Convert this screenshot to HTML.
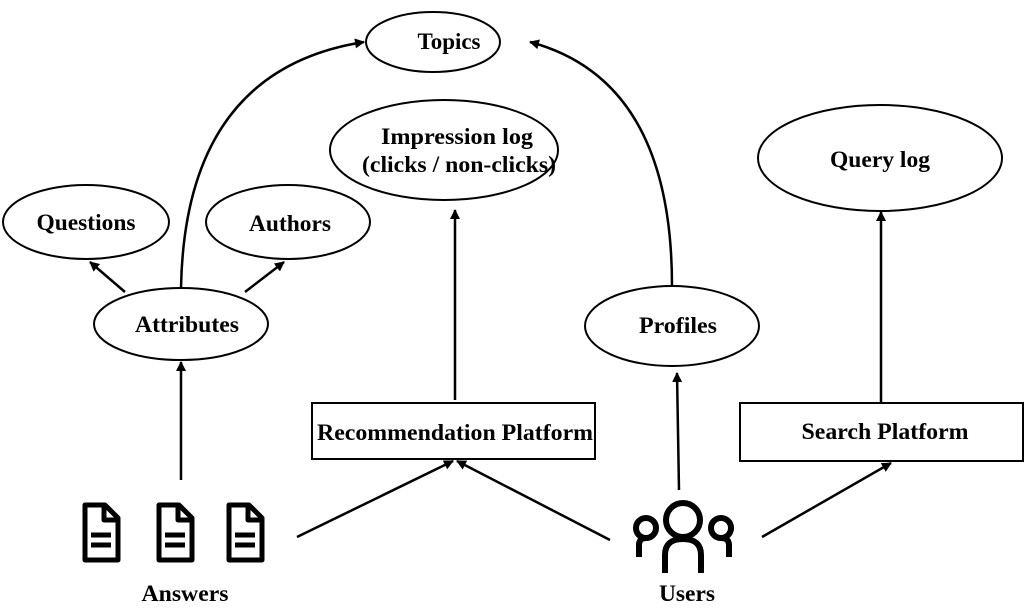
<!DOCTYPE html>
<html><head><style>body{margin:0;background:#fff}svg{display:block}text{font-family:"Liberation Serif",serif;font-weight:bold;font-size:23px;text-anchor:middle}</style></head><body>
<svg width="1031" height="608" viewBox="0 0 1031 608">
<defs><marker id="a" markerWidth="10" markerHeight="10" refX="9" refY="5" orient="auto" markerUnits="userSpaceOnUse"><path d="M0,0 L10,5 L0,10 Z" fill="#000"/></marker></defs>
<g fill="#fff" stroke="#000" stroke-width="2">
<ellipse cx="433" cy="42" rx="67" ry="30"/>
<ellipse cx="444" cy="150" rx="114" ry="50"/>
<ellipse cx="880" cy="158" rx="122" ry="53"/>
<ellipse cx="86" cy="222" rx="83" ry="37"/>
<ellipse cx="288" cy="222" rx="82" ry="37"/>
<ellipse cx="181" cy="324" rx="87" ry="36"/>
<ellipse cx="672" cy="326" rx="87" ry="40"/>
<rect x="312" y="403" width="283" height="56"/>
<rect x="740" y="403" width="283" height="58"/>
</g>
<g fill="none" stroke="#000" stroke-width="2.5" marker-end="url(#a)">
<path d="M181,288 Q185,70 364,42"/>
<path d="M672,286 Q672,80 530,42"/>
<path d="M125,292 L90,262"/>
<path d="M245,292 L284,262"/>
<path d="M181,480 L181,362"/>
<path d="M455,400 L455,210"/>
<path d="M679,490 L677,373"/>
<path d="M881,403 L881,212"/>
<path d="M297,537 L453,461"/>
<path d="M610,540 L457,461"/>
<path d="M762,537 L891,463"/>
</g>
<text x="449" y="49" textLength="63" lengthAdjust="spacingAndGlyphs">Topics</text>
<text x="457" y="144" textLength="152" lengthAdjust="spacingAndGlyphs">Impression log</text>
<text x="459" y="172" textLength="194" lengthAdjust="spacingAndGlyphs">(clicks / non-clicks)</text>
<text x="880" y="167" textLength="100" lengthAdjust="spacingAndGlyphs">Query log</text>
<text x="86" y="230" textLength="99" lengthAdjust="spacingAndGlyphs">Questions</text>
<text x="290" y="231" textLength="82" lengthAdjust="spacingAndGlyphs">Authors</text>
<text x="187" y="332" textLength="104" lengthAdjust="spacingAndGlyphs">Attributes</text>
<text x="678" y="333" textLength="78" lengthAdjust="spacingAndGlyphs">Profiles</text>
<text x="455" y="440" textLength="276" lengthAdjust="spacingAndGlyphs">Recommendation Platform</text>
<text x="885" y="439" textLength="167" lengthAdjust="spacingAndGlyphs">Search Platform</text>
<text x="185" y="601" textLength="87" lengthAdjust="spacingAndGlyphs">Answers</text>
<text x="687" y="601" textLength="56" lengthAdjust="spacingAndGlyphs">Users</text>
<g fill="none" stroke="#000" stroke-width="5" stroke-linejoin="round">
<g id="d"><path d="M85,505 L105,505 L118,518 L118,560 L85,560 Z"/><path d="M104,505 L104,520 L118,520"/><path d="M91,535 L111,535 M91,545 L111,545"/></g>
<use href="#d" x="74"/><use href="#d" x="144"/>
</g>
<g fill="none" stroke="#000" stroke-width="6" stroke-linecap="butt">
<circle cx="683" cy="520" r="17"/>
<path d="M665,573 L665,555 Q665,539 683,539 Q701,539 701,555 L701,573"/>
<circle cx="646" cy="528" r="10"/><circle cx="721" cy="528" r="10"/>
<path d="M639,557 L639,545 Q639,538 646,538"/><path d="M729,557 L729,545 Q729,538 721,538"/>
</g>
</svg>
</body></html>
